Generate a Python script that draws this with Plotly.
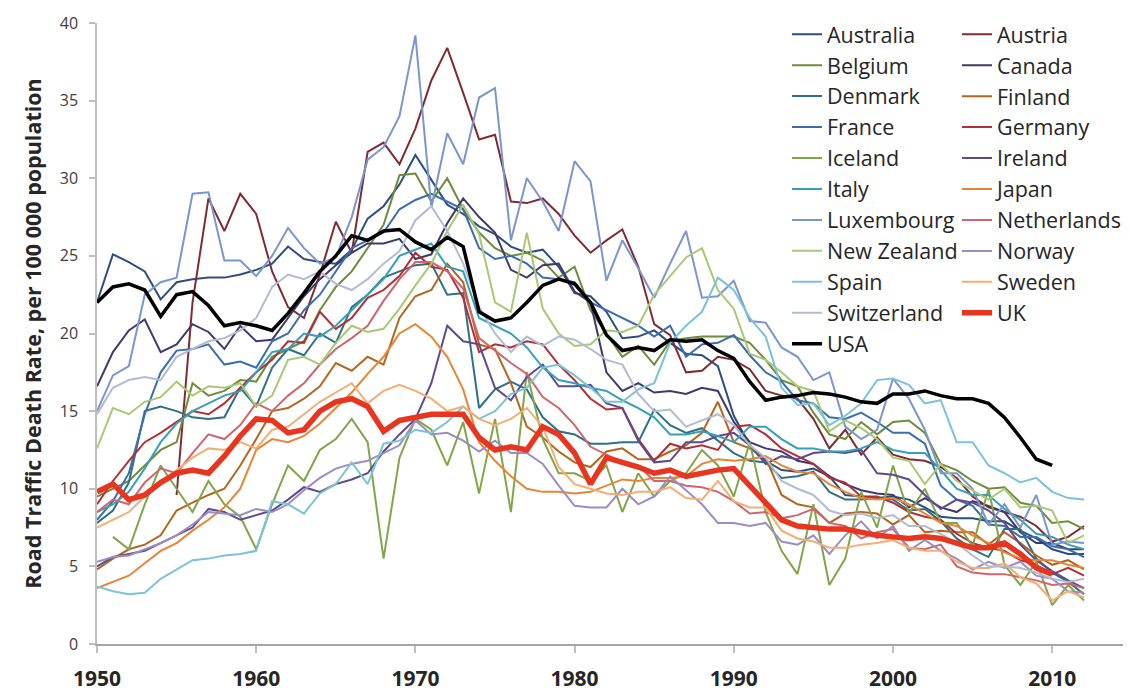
import plotly.graph_objects as go

years = list(range(1950, 2013))

australia = [22.0, 25.1, 24.6, 24.0, 22.2, 23.3, 23.5, 23.6, 23.6, 23.8,
             24.1, 24.5, 25.6, 24.8, 24.6, 24.5, 25.4, 27.4, 28.2, 29.6,
             31.5, 29.9, 28.3, 27.7, 26.9, 26.4, 25.6, 25.2, 25.4, 24.3,
             22.6, 22.4, 21.4, 19.7, 19.8, 20.2, 19.4, 18.7, 18.6, 17.9,
             14.7, 12.8, 11.8, 11.2, 11.1, 11.3, 10.8, 9.6, 9.5, 9.4,
             9.5, 9.3, 8.8, 8.2, 8.1, 8.1, 7.9, 7.9, 7.3, 6.8,
             6.1, 5.8, 5.8]
austria = [None, None, None, None, None, 9.6, 22.0, 28.7, 26.6, 29.0,
           27.7, 24.0, 21.7, 21.0, 23.8, 27.2, 25.2, 31.7, 32.3, 30.9,
           33.2, 36.3, 38.4, 35.5, 32.5, 32.8, 28.5, 28.4, 28.7, 27.7,
           26.3, 25.2, 26.0, 26.7, 24.3, 20.6, 19.9, 17.5, 17.6, 18.5,
           18.3, 17.7, 16.3, 16.0, 15.8, 14.5, 12.6, 13.8, 12.2, 13.3,
           12.2, 11.9, 11.8, 11.4, 10.7, 9.5, 8.8, 8.5, 8.2, 7.6,
           6.6, 6.9, 7.6]
belgium = [9.5, 10.0, 10.5, 11.5, 12.5, 13.0, 16.8, 16.0, 16.3, 17.0,
           16.9, 18.5, 19.0, 19.5, 21.5, 23.0, 24.0, 25.5, 27.0, 30.2,
           30.3, 28.5, 30.0, 28.0, 26.5, 25.5, 25.0, 25.2, 24.7, 23.6,
           24.3, 21.5, 20.0, 18.5, 19.2, 18.0, 19.5, 19.7, 19.8, 19.8,
           19.8, 19.4, 18.3, 17.0, 16.6, 14.9, 13.5, 13.2, 14.3, 13.5,
           14.3, 14.4, 13.6, 11.6, 11.2, 10.5, 10.0, 10.1, 9.1, 8.9,
           7.8, 7.9, 7.4]
canada = [16.6, 18.8, 20.2, 20.9, 18.8, 19.3, 20.6, 20.1, 19.0, 20.5,
          19.5, 19.6, 21.0, 22.4, 23.5, 24.4, 25.2, 25.8, 25.8, 26.1,
          24.8, 25.1, 27.1, 28.7, 27.5, 26.5, 24.1, 23.6, 24.4, 24.5,
          22.7, 22.0, 17.5, 16.3, 16.8, 16.2, 16.3, 16.1, 16.5, 16.3,
          14.3, 13.0, 12.6, 12.4, 11.8, 11.6, 10.8, 10.3, 9.9, 9.7,
          9.6, 8.8, 9.4, 8.8, 8.5, 9.2, 8.9, 8.5, 7.2, 6.5,
          6.5, 6.1, 6.1]
denmark = [7.8, 8.6, 10.4, 15.0, 15.3, 15.0, 14.6, 14.5, 14.6, 16.5,
           15.3, 17.8, 19.0, 18.6, 20.0, 19.4, 21.7, 22.5, 23.6, 24.0,
           24.4, 24.5, 22.5, 22.6, 15.2, 16.4, 16.9, 16.4, 14.6, 13.7,
           13.5, 12.9, 12.9, 13.0, 13.0, 15.1, 14.1, 13.6, 13.9, 13.1,
           12.3, 11.8, 11.7, 10.7, 10.8, 11.1, 9.8, 9.3, 9.3, 9.4,
           9.3, 8.6, 8.7, 7.9, 6.8, 6.1, 5.6, 7.4, 7.4, 5.5,
           4.6, 4.0, 3.2]
finland = [4.8, 5.5, 6.1, 6.4, 7.0, 8.6, 9.1, 9.6, 10.0, 11.5,
           13.2, 15.0, 15.2, 15.8, 16.6, 18.1, 17.6, 18.5, 18.0, 21.0,
           22.4, 22.8, 24.5, 23.3, 19.3, 19.0, 16.8, 14.0, 13.3, 12.4,
           11.7, 11.4, 12.4, 12.6, 11.9, 11.9, 12.4, 12.8, 13.6, 15.6,
           13.0, 12.6, 12.0, 9.6, 9.0, 8.8, 7.8, 8.4, 8.5, 8.4,
           7.7, 8.3, 7.2, 7.3, 7.2, 7.2, 6.4, 7.2, 6.5, 5.7,
           5.1, 5.4, 4.8]
france = [8.0, 9.2, 11.0, 14.8, 17.5, 18.9, 19.0, 19.3, 18.0, 18.2,
          17.8, 19.5, 20.0, 21.5, 22.5, 24.0, 25.5, 26.0, 26.5, 28.0,
          28.6, 29.0, 28.5, 28.0, 25.5, 24.8, 25.0, 24.5, 23.6, 23.5,
          23.3, 22.0, 21.5, 21.0, 20.5, 19.8, 20.5, 18.5, 19.3, 19.4,
          19.9, 18.6, 17.5, 16.9, 15.7, 15.5, 14.6, 14.5, 14.9, 14.3,
          13.6, 13.6, 12.9, 10.2, 9.3, 8.9, 7.7, 7.6, 6.9, 6.9,
          6.3, 6.1, 5.6]
germany = [9.0, 10.5, 11.8, 13.0, 13.6, 14.3, 15.0, 14.8, 15.5, 16.5,
           17.5, 18.3, 19.5, 19.4, 21.4, 20.3, 21.0, 22.3, 22.8, 23.7,
           25.2, 24.3, 24.1, 22.3, 18.8, 19.3, 19.1, 19.5, 19.3, 18.0,
           17.0, 15.8, 15.1, 15.2, 13.2, 11.8, 12.9, 12.6, 12.8, 12.5,
           14.0, 14.1, 13.5, 12.6, 12.1, 11.6, 10.7, 10.4, 9.5, 9.5,
           9.1, 8.5, 8.2, 8.0, 7.1, 6.5, 6.2, 6.0, 5.4, 5.1,
           4.5, 4.9, 4.4]
iceland = [None, 6.9, 6.1, 9.0, 11.5, 10.0, 8.5, 10.5, 9.0, 8.2,
           6.1, 9.0, 11.5, 10.5, 12.5, 13.2, 14.5, 13.0, 5.5, 12.0,
           14.5, 13.8, 11.5, 14.3, 9.7, 14.5, 8.5, 17.5, 13.2, 11.0,
           11.0, 10.5, 11.5, 8.5, 11.0, 9.5, 10.5, 11.0, 12.5, 11.5,
           9.5, 13.0, 8.5, 6.0, 4.5, 9.0, 3.8, 5.5, 9.8, 7.5,
           11.5, 8.4, 10.0, 7.8, 7.8, 6.3, 10.0, 5.1, 3.8, 5.3,
           2.5, 3.8, 2.8]
ireland = [5.0, 5.6, 5.8, 6.0, 6.5, 7.0, 7.5, 8.7, 8.5, 8.0,
           8.3, 8.6, 9.3, 10.1, 9.8, 10.3, 10.6, 11.0, 12.4, 13.5,
           14.5, 16.8, 20.5, 19.5, 19.3, 16.5, 15.7, 17.2, 18.0, 16.6,
           16.6, 16.7, 15.5, 15.2, 13.1, 11.7, 11.8, 13.0, 13.0, 13.4,
           13.6, 12.8, 11.6, 12.1, 11.9, 12.3, 12.4, 12.3, 12.5, 11.0,
           10.9, 10.6, 9.6, 8.7, 9.3, 9.1, 8.6, 7.8, 6.4, 5.4,
           4.7, 4.1, 3.6]
italy = [8.5, 9.0, 9.8, 11.3, 13.0, 14.2, 15.0, 15.5, 16.0, 16.3,
         17.5, 18.8, 19.0, 20.0, 19.8, 20.5, 21.5, 22.5, 23.5, 25.0,
         25.4, 25.8, 24.3, 24.0, 21.0, 20.5, 20.0, 19.1, 17.8, 17.0,
         16.8, 16.5, 16.3, 15.7, 15.2, 14.6, 13.5, 13.5, 13.7, 13.4,
         13.0, 14.0, 14.0, 13.2, 12.6, 12.6, 12.4, 12.4, 12.6, 13.0,
         12.5, 12.3, 12.3, 11.2, 10.0, 9.6, 9.6, 8.7, 8.0, 7.1,
         6.9, 6.4, 6.1]
japan = [3.6, 4.0, 4.4, 5.2, 6.0, 6.5, 7.3, 8.0, 8.8, 10.0,
         12.5, 13.2, 13.0, 13.4, 14.2, 15.2, 16.2, 17.4, 18.5, 20.0,
         20.6, 19.8, 18.5, 16.4, 13.0, 11.8, 10.8, 10.0, 9.8, 9.8,
         9.7, 9.8, 10.2, 10.6, 10.5, 10.7, 10.7, 10.8, 11.6, 11.9,
         11.8, 11.9, 12.1, 11.5, 11.1, 11.0, 10.3, 9.8, 9.4, 9.3,
         9.4, 9.0, 8.4, 7.8, 7.6, 7.0, 6.5, 5.9, 5.5, 5.4,
         5.4, 5.1, 4.9]
luxembourg = [15.0, 17.3, 17.9, 22.5, 23.3, 23.6, 29.0, 29.1, 24.7, 24.7,
              23.7, 25.0, 26.8, 25.5, 24.5, 24.9, 27.5, 31.2, 32.0, 34.0,
              39.2, 28.1, 32.9, 30.9, 35.2, 35.8, 26.0, 30.0, 28.5, 26.6,
              31.1, 29.8, 23.4, 26.0, 24.2, 22.3, 24.5, 26.6, 22.3, 22.4,
              23.4, 20.8, 20.7, 19.1, 18.5, 17.0, 17.5, 14.0, 13.2, 13.8,
              17.1, 15.8, 13.8, 11.0, 11.0, 10.0, 7.7, 9.0, 7.5, 9.6,
              6.4, 6.6, 6.5]
netherlands = [8.5, 9.3, 9.0, 10.4, 11.3, 11.0, 12.3, 13.5, 13.2, 14.1,
               15.5, 15.0, 16.0, 16.8, 18.0, 19.0, 19.7, 20.5, 22.1, 23.5,
               24.6, 24.6, 24.0, 22.9, 19.7, 18.9, 18.1, 17.4, 15.9, 15.2,
               14.1, 12.7, 12.2, 11.7, 11.5, 10.5, 10.5, 10.2, 10.1, 9.8,
               9.2, 8.4, 8.5, 8.1, 8.3, 8.7, 7.8, 7.6, 6.8, 7.2,
               7.4, 6.2, 6.1, 6.4, 5.0, 4.6, 4.5, 4.5, 4.3, 4.1,
               3.8, 3.9, 3.6]
new_zealand = [12.6, 15.2, 14.8, 15.6, 15.9, 16.9, 16.0, 16.6, 16.5, 16.8,
               15.3, 16.0, 18.3, 18.5, 18.0, 19.4, 20.5, 20.1, 20.3, 21.6,
               23.1, 24.5, 26.6, 28.3, 26.4, 22.0, 21.4, 26.5, 21.6, 20.0,
               19.2, 19.3, 20.2, 20.1, 20.5, 22.5, 23.7, 24.9, 25.5, 22.8,
               21.6, 18.7, 18.3, 17.5, 16.6, 16.3, 13.7, 14.4, 13.9, 13.2,
               12.0, 11.8, 10.3, 11.6, 10.5, 9.9, 9.3, 10.0, 8.8, 8.9,
               8.6, 6.5, 7.0]
norway = [5.3, 5.6, 5.7, 6.1, 6.5, 7.0, 7.7, 8.5, 8.4, 8.3,
          8.7, 8.5, 9.0, 9.9, 10.7, 11.3, 11.6, 11.8, 12.3, 12.8,
          14.4, 13.5, 13.6, 13.1, 12.4, 13.1, 12.3, 12.3, 11.6, 10.2,
          8.9, 8.8, 8.8, 10.0, 9.0, 9.5, 10.8, 9.9, 9.0, 7.8,
          7.8, 7.6, 7.8, 6.6, 6.4, 7.0, 5.8, 7.0, 7.9, 6.8,
          7.6, 6.0, 6.7, 6.0, 5.5, 4.8, 5.3, 4.9, 5.3, 4.4,
          4.2, 3.4, 3.3]
spain = [3.7, 3.4, 3.2, 3.3, 4.2, 4.8, 5.4, 5.5, 5.7, 5.8,
         6.0, 9.2, 9.0, 8.4, 9.7, 10.3, 11.7, 10.3, 12.9, 13.1,
         13.8, 13.6, 14.3, 15.3, 14.5, 15.0, 16.1, 16.5, 17.8, 18.0,
         17.3, 16.5, 15.6, 15.6, 16.4, 16.8, 19.4, 20.5, 21.4, 23.6,
         22.8, 21.0, 19.8, 16.5, 15.4, 15.5, 14.1, 14.7, 15.5, 17.0,
         17.1, 16.7, 15.5, 15.7, 13.0, 13.0, 11.5, 11.0, 10.4, 10.7,
         9.8, 9.4, 9.3]
sweden = [7.5, 8.0, 8.5, 9.5, 10.3, 11.2, 12.0, 12.6, 12.5, 13.0,
          12.6, 13.8, 14.0, 14.8, 15.6, 16.2, 16.8, 15.5, 16.3, 16.7,
          16.3, 15.8, 15.0, 15.3, 14.5, 14.1, 14.5, 15.2, 14.0, 11.4,
          10.3, 10.0, 9.7, 9.6, 9.8, 9.8, 10.1, 9.4, 9.3, 10.5,
          9.2, 8.8, 8.8, 7.3, 6.8, 6.6, 6.2, 6.2, 6.4, 6.5,
          6.7, 6.2, 6.0, 6.0, 5.3, 4.9, 4.9, 5.2, 4.3, 3.9,
          2.8, 3.4, 3.0]
switzerland = [14.8, 16.5, 17.0, 17.2, 17.0, 18.5, 19.0, 19.5, 19.7, 20.2,
               21.0, 23.0, 23.8, 23.5, 24.0, 23.2, 22.8, 23.5, 24.5, 25.3,
               27.3, 28.2, 26.6, 24.5, 21.7, 20.0, 18.8, 19.8, 19.2, 19.8,
               19.6, 19.0, 18.3, 18.0, 16.1, 15.0, 15.1, 14.0, 14.4, 14.8,
               14.1, 12.8, 12.0, 10.5, 10.0, 9.6, 8.6, 8.3, 8.4, 8.1,
               8.3, 7.6, 7.6, 7.1, 6.5, 5.7, 5.0, 5.0, 4.9, 4.6,
               4.2, 4.0, 4.2]
uk = [9.8, 10.3, 9.3, 9.6, 10.4, 11.0, 11.2, 11.0, 12.1, 13.4,
      14.5, 14.4, 13.6, 13.8, 15.0, 15.6, 15.8, 15.3, 13.7, 14.4,
      14.6, 14.8, 14.8, 14.8, 13.3, 12.5, 12.7, 12.5, 14.0, 13.5,
      12.3, 10.3, 12.0, 11.7, 11.4, 11.0, 11.2, 10.8, 11.0, 11.2,
      11.3, 10.2, 9.2, 8.0, 7.6, 7.5, 7.4, 7.4, 7.2, 7.0,
      6.9, 6.8, 6.9, 6.8, 6.5, 6.2, 6.2, 6.5, 5.8, 4.9,
      4.5, None, None]
usa = [22.0, 23.0, 23.2, 22.8, 21.1, 22.5, 22.7, 21.8, 20.5, 20.7,
       20.5, 20.2, 21.3, 22.6, 24.0, 25.0, 26.3, 26.0, 26.6, 26.7,
       25.9, 25.4, 26.2, 25.6, 21.4, 20.8, 21.0, 22.0, 23.1, 23.5,
       23.2, 22.0, 19.9, 18.9, 19.1, 18.9, 19.6, 19.5, 19.6, 18.9,
       18.4, 16.9, 15.7, 15.9, 16.0, 16.2, 16.1, 15.9, 15.6, 15.5,
       16.1, 16.1, 16.3, 16.0, 15.8, 15.8, 15.5, 14.6, 13.3, 11.9,
       11.5, None, None]

country_names = ["Australia", "Austria", "Belgium", "Canada", "Denmark", "Finland",
                 "France", "Germany", "Iceland", "Ireland", "Italy", "Japan",
                 "Luxembourg", "Netherlands", "New Zealand", "Norway", "Spain",
                 "Sweden", "Switzerland", "UK", "USA"]
country_values = [australia, austria, belgium, canada, denmark, finland,
                  france, germany, iceland, ireland, italy, japan,
                  luxembourg, netherlands, new_zealand, norway, spain,
                  sweden, switzerland, uk, usa]
x_tick_years = [1950, 1960, 1970, 1980, 1990, 2000, 2010]

colors = ["#2E4E7E", "#7F2B34", "#6F8C3B", "#3F3A6B", "#2E7184", "#B4661F",
          "#3C6DB0", "#B12F35", "#82A548", "#5E4B8E", "#35A0B7", "#E88535",
          "#7A96CC", "#D0656E", "#A9C874", "#9A8DC3", "#7CC3D5", "#F4AE73",
          "#B2BBCF", "#E8351F", "#000000"]
widths = [2.0] * 19 + [5.5, 3.5]

for v in country_values:
    assert len(v) == len(years), len(v)

fig = go.Figure()
for i, (name, vals) in enumerate(zip(country_names, country_values)):
    fig.add_trace(go.Scatter(
        x=years, y=vals, name=name, mode="lines",
        line=dict(color=colors[i], width=widths[i]),
        legend="legend" if i % 2 == 0 else "legend2",
        connectgaps=False,
    ))

# the page puts the figure 8 px in from the top-left corner
W, H = 1123, 685
ML, MR, MT, MB = 89, 0, 15, 49
PW, PH = W - ML - MR, H - MT - MB
ITEM_H = 21.5 * 1.3 + 3
LEG_TOP = 6


def leg_y(n_items):
    centre_px = LEG_TOP + (n_items * ITEM_H + 10) / 2
    return (H - MB - centre_px) / PH


legend_common = dict(
    xref="paper", yref="paper", yanchor="middle", xanchor="left",
    font=dict(size=21.5, color="#262626", family="Open Sans"),
    bgcolor="rgba(0,0,0,0)", itemwidth=30, tracegroupgap=0,
)

fig.update_layout(
    width=W, height=H,
    margin=dict(l=ML, r=MR, t=MT, b=MB, autoexpand=False),
    paper_bgcolor="white", plot_bgcolor="white",
    font=dict(family="Open Sans", color="#262626"),
    showlegend=True,
    legend=dict(x=(779 - ML) / PW, y=leg_y(11), **legend_common),
    legend2=dict(x=(949 - ML) / PW, y=leg_y(10), **legend_common),
    xaxis=dict(
        range=[1950, 2014.95], tickvals=x_tick_years,
        ticktext=["<b>%d</b>" % y for y in x_tick_years],
        ticks="outside", ticklen=7, tickcolor="#BFBFBF", tickwidth=1.5,
        showline=True, linecolor="#A6A6A6", linewidth=1.5,
        showgrid=False, zeroline=False, automargin=False,
        tickfont=dict(size=21, color="#262626", family="Open Sans"),
        ticklabelstandoff=8,
    ),
    yaxis=dict(
        range=[0, 40], tickvals=[0, 5, 10, 15, 20, 25, 30, 35, 40],
        ticks="outside", ticklen=6, tickcolor="#BFBFBF", tickwidth=1.5,
        showline=True, linecolor="#BFBFBF", linewidth=1.5,
        showgrid=False, zeroline=False, automargin=False,
        tickfont=dict(size=16, color="#404040", family="Open Sans"),
        ticklabelstandoff=8,
        title=dict(text="<b>Road Traffic Death Rate, per 100 000 population</b>",
                   font=dict(size=21.5, color="#262626", family="Open Sans"),
                   standoff=12),
    ),
)

fig.write_html("out.html")
